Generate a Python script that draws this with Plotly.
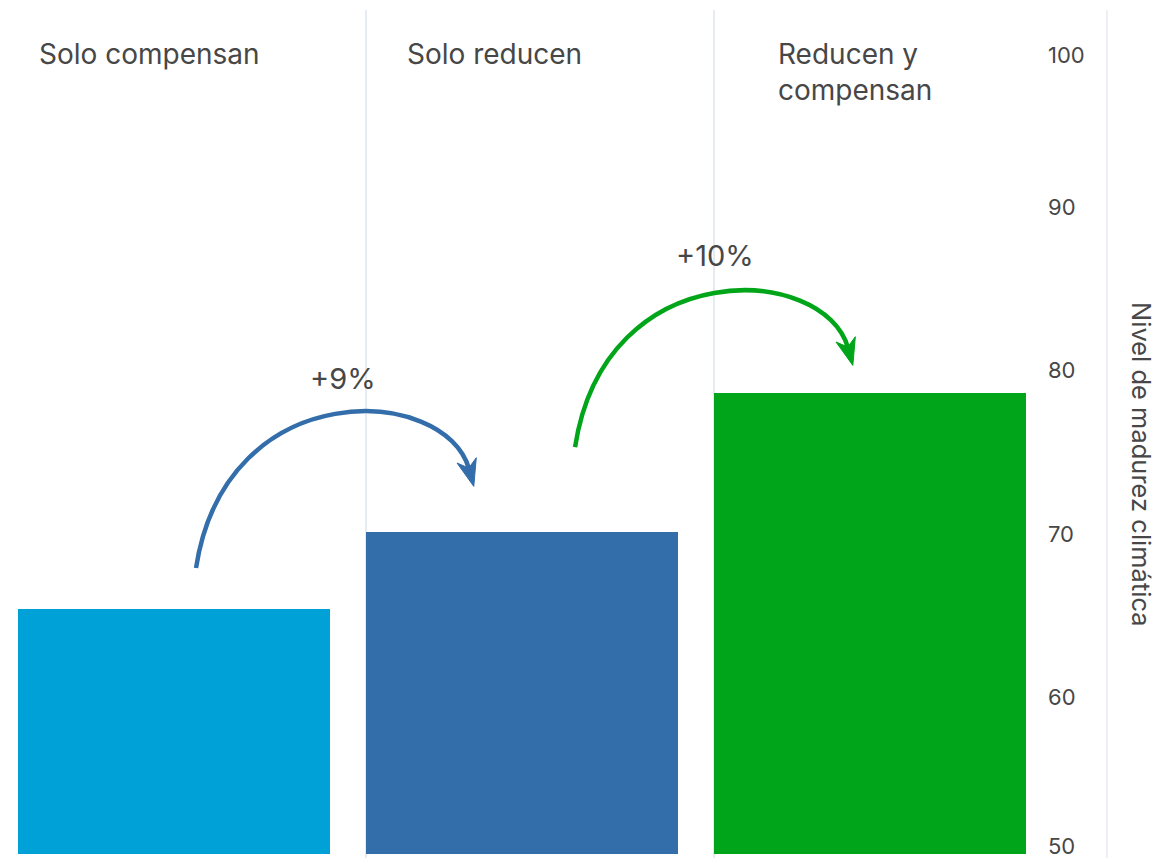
import math
import plotly.graph_objects as go

# ---------------- data ----------------
categories = ["Solo compensan", "Solo reducen", "Reducen y<br>compensan"]
values = [65.0, 69.7, 78.2]
bar_colors = ["#00A1D7", "#336EAB", "#00A519"]
tick_values = [50, 60, 70, 80, 90, 100]
tick_labels = ["50", "60", "70", "80", "90", "100"]
changes = ["+9%", "+10%"]
change_colors = ["#336EAB", "#00A519"]
axis_title = "Nivel de madurez climática"

# annotation anchors (data units)
cat_label_x = [0.055, 1.113, 2.179]
change_label_x = [0.934, 2.003]
change_label_y = [79.1, 86.6]
arrow_start_x = [0.5115, 1.6006]
arrow_start_y = [67.49, 74.89]

# ---------------- layout constants ----------------
W, H = 1176, 858
ML, MR, MT, MB = 18, 69, 10, 0
X_RANGE = [0, 3.129]
Y_RANGE = [49.755, 101.62]
PW = W - ML - MR
PH = H - MT - MB
FONT = "Inter, Montserrat, sans-serif"
TXT = "#474747"
GRID = "#e6ebf2"


def x2px(x):
    return ML + (x - X_RANGE[0]) / (X_RANGE[1] - X_RANGE[0]) * PW


def y2px(y):
    return MT + (Y_RANGE[1] - y) / (Y_RANGE[1] - Y_RANGE[0]) * PH


def px2x(px):
    return X_RANGE[0] + (px - ML) / PW * (X_RANGE[1] - X_RANGE[0])


def px2y(py):
    return Y_RANGE[1] - (py - MT) / PH * (Y_RANGE[1] - Y_RANGE[0])


fig = go.Figure()

fig.add_trace(go.Bar(
    x=list(range(len(categories))),
    y=[v - 50 for v in values],
    base=50,
    width=0.897,
    offset=0,
    marker=dict(color=bar_colors, line=dict(width=0)),
    hoverinfo="skip",
    showlegend=False,
))

shapes = []
annotations = []

# right border line
shapes.append(dict(type="line", xref="paper", yref="paper", x0=1, x1=1, y0=0, y1=1,
                   line=dict(color=GRID, width=1.5), layer="below"))

# curved arrows (relative pixel geometry)
c1 = (30, -195)
c2 = (250, -183)
e = (273, -99)
for sx, sy, col in zip(arrow_start_x, arrow_start_y, change_colors):
    px0, py0 = x2px(sx), y2px(sy)
    P = [(px0, py0), (px0 + c1[0], py0 + c1[1]), (px0 + c2[0], py0 + c2[1]), (px0 + e[0], py0 + e[1])]
    Pd = [(px2x(a), px2y(b)) for a, b in P]
    path = "M {:.5f},{:.5f} C {:.5f},{:.5f} {:.5f},{:.5f} {:.5f},{:.5f}".format(
        Pd[0][0], Pd[0][1], Pd[1][0], Pd[1][1], Pd[2][0], Pd[2][1], Pd[3][0], Pd[3][1])
    shapes.append(dict(type="path", xref="x", yref="y", path=path,
                       line=dict(color=col, width=4.5)))
    # arrowhead
    dx, dy = P[3][0] - P[2][0], P[3][1] - P[2][1]
    L = math.hypot(dx, dy)
    dx, dy = dx / L, dy / L
    nx, ny = dy, -dx
    ex, ey = P[3]
    tip = (ex + 18 * dx, ey + 18 * dy)
    w1 = (ex - 9 * dx + 10 * nx, ey - 9 * dy + 10 * ny)
    w2 = (ex - 9 * dx - 10 * nx, ey - 9 * dy - 10 * ny)
    notch = (ex - 1 * dx, ey - 1 * dy)
    pts = [tip, w1, notch, w2]
    pd = [(px2x(a), px2y(b)) for a, b in pts]
    hp = "M {:.5f},{:.5f} L {:.5f},{:.5f} L {:.5f},{:.5f} L {:.5f},{:.5f} Z".format(
        *[c for p in pd for c in p])
    shapes.append(dict(type="path", xref="x", yref="y", path=hp,
                       fillcolor=col, line=dict(color=col, width=1)))

# category labels
for cx, txt in zip(cat_label_x, categories):
    annotations.append(dict(x=cx, y=1, xref="x", yref="paper", text=txt, showarrow=False,
                            xanchor="left", yanchor="top", yshift=-25, align="left",
                            font=dict(family=FONT, size=28, color=TXT)))

# change labels
for lx, ly, txt in zip(change_label_x, change_label_y, changes):
    annotations.append(dict(x=lx, y=ly, xref="x", yref="y", text=txt, showarrow=False,
                            xanchor="center", yanchor="middle",
                            font=dict(family=FONT, size=29, color=TXT)))

# y tick labels (hanging below tick)
for tv, tl in zip(tick_values, tick_labels):
    if tv == tick_values[0]:
        ya, ys = "bottom", -7
    elif tv == tick_values[-1]:
        ya, ys = "top", -4
    else:
        ya, ys = "top", 8
    annotations.append(dict(x=2.954, y=tv, xref="x", yref="y", text=tl, showarrow=False,
                            xanchor="left", yanchor=ya, yshift=ys,
                            font=dict(family=FONT, size=22, color=TXT)))

# axis title
annotations.append(dict(x=(1141 - ML) / PW, y=1 - (464 - MT) / PH, xref="paper", yref="paper",
                        text=axis_title, showarrow=False, textangle=90,
                        xanchor="center", yanchor="middle",
                        font=dict(family=FONT, size=25.5, color=TXT)))

fig.update_layout(
    width=W, height=H,
    margin=dict(l=ML, r=MR, t=MT, b=MB, pad=0),
    paper_bgcolor="white", plot_bgcolor="white",
    shapes=shapes, annotations=annotations,
    bargap=0,
    xaxis=dict(range=X_RANGE, tickvals=[0, 1, 2], showticklabels=False, showgrid=True,
               gridcolor=GRID, gridwidth=1.5, zeroline=False, showline=False, fixedrange=True),
    yaxis=dict(range=Y_RANGE, showticklabels=False, showgrid=False, zeroline=False,
               showline=False, fixedrange=True),
    font=dict(family=FONT, color=TXT),
)

fig.write_html("out.html", config={"displayModeBar": False},
               post_script="document.body.style.margin='0';")
